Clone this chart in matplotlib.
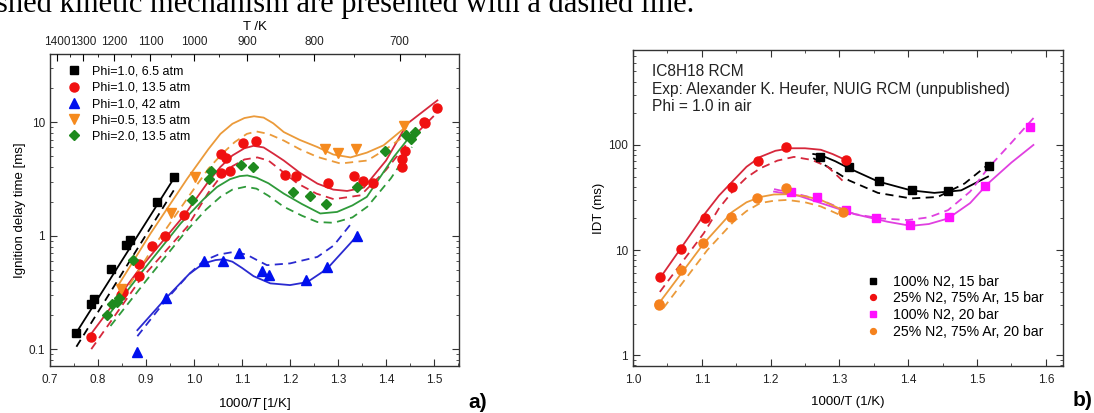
"""Ignition delay times of iso-octane: shock tube (a) and RCM (b) vs. model."""

import matplotlib.pyplot as plt
from matplotlib.ticker import FixedLocator, FuncFormatter, LogLocator, MultipleLocator, NullFormatter

plt.rcParams["font.family"] = ["Liberation Sans", "DejaVu Sans"]

# ---------------- panel a) data ----------------
A_LABELS = ["Phi=1.0, 6.5 atm", "Phi=1.0, 13.5 atm", "Phi=1.0, 42 atm",
            "Phi=0.5, 13.5 atm", "Phi=2.0, 13.5 atm"]

a_black_x = [0.755, 0.786, 0.791, 0.827, 0.858, 0.866, 0.923, 0.959]
a_black_y = [0.14, 0.25, 0.276, 0.51, 0.82, 0.91, 2.0, 3.26]

a_red_x = [0.786, 0.847, 0.852, 0.885, 0.885, 0.913, 0.940, 0.980, 1.057, 1.066,
           1.057, 1.076, 1.103, 1.130, 1.189, 1.213, 1.280, 1.334, 1.353, 1.372,
           1.434, 1.434, 1.439, 1.479, 1.482, 1.507]
a_red_y = [0.128, 0.30, 0.316, 0.44, 0.56, 0.81, 1.0, 1.52, 5.2, 4.8,
           3.6, 3.7, 6.6, 6.9, 3.46, 3.33, 2.92, 3.33, 3.04, 2.92,
           4.79, 4.04, 5.58, 10.1, 9.9, 13.5]

a_blue_x = [0.882, 0.941, 1.020, 1.061, 1.094, 1.142, 1.156, 1.234, 1.276, 1.339]
a_blue_y = [0.094, 0.283, 0.60, 0.60, 0.71, 0.487, 0.45, 0.41, 0.53, 0.99]

a_orange_x = [0.847, 0.953, 1.003, 1.272, 1.300, 1.337, 1.438]
a_orange_y = [0.34, 1.59, 3.3, 5.87, 5.37, 5.87, 9.2]

a_green_x = [0.818, 0.829, 0.839, 0.844, 0.872, 0.996, 1.032, 1.035, 1.097, 1.122,
             1.207, 1.241, 1.274, 1.339, 1.397, 1.442, 1.451, 1.461]
a_green_y = [0.20, 0.25, 0.26, 0.28, 0.61, 2.05, 3.15, 3.75, 4.18, 4.04,
             2.42, 2.23, 1.92, 2.69, 5.55, 7.8, 7.08, 8.2]

# model curves (solid = new mechanism, dashed = published mechanism)
a_black_sol_x = [0.755, 0.960]
a_black_sol_y = [0.14, 3.3]
a_black_das_x = [0.755, 0.960]
a_black_das_y = [0.105, 2.6]

a_red_sol_x = [0.786, 0.885, 0.980, 1.030, 1.055, 1.080, 1.105, 1.124, 1.145, 1.165,
               1.187, 1.220, 1.257, 1.290, 1.319, 1.354, 1.400, 1.444, 1.507]
a_red_sol_y = [0.137, 0.50, 1.52, 3.0, 4.04, 5.1, 5.9, 6.2, 6.0, 5.3,
               4.6, 3.6, 2.88, 2.55, 2.48, 2.66, 4.6, 9.7, 15.6]
a_red_das_x = [0.786, 0.888, 0.986, 1.030, 1.055, 1.080, 1.105, 1.132, 1.155, 1.180,
               1.215, 1.255, 1.291, 1.347, 1.400, 1.450, 1.505]
a_red_das_y = [0.10, 0.41, 1.2, 2.4, 3.3, 4.1, 4.7, 4.9, 4.6, 3.8,
               2.9, 2.35, 2.1, 2.27, 3.8, 7.0, 12.0]

a_blue_sol_x = [0.882, 0.941, 0.990, 1.020, 1.045, 1.062, 1.080, 1.100, 1.124, 1.159,
                1.200, 1.236, 1.277, 1.339]
a_blue_sol_y = [0.147, 0.28, 0.46, 0.57, 0.61, 0.62, 0.59, 0.52, 0.44, 0.38,
                0.367, 0.39, 0.51, 0.99]
a_blue_das_x = [0.882, 0.941, 0.990, 1.020, 1.050, 1.083, 1.110, 1.131, 1.152, 1.200,
                1.257, 1.291, 1.330]
a_blue_das_y = [0.13, 0.27, 0.46, 0.60, 0.68, 0.72, 0.68, 0.61, 0.55, 0.57,
                0.65, 0.82, 1.32]

a_orange_sol_x = [0.843, 0.909, 0.986, 1.030, 1.055, 1.080, 1.105, 1.125, 1.145, 1.165,
                  1.187, 1.220, 1.257, 1.290, 1.326, 1.360, 1.395, 1.437]
a_orange_sol_y = [0.37, 1.04, 3.19, 5.8, 7.9, 9.7, 10.9, 11.3, 11.0, 9.8,
                  8.2, 7.0, 6.05, 5.2, 4.9, 5.4, 6.27, 8.8]
a_orange_das_x = [0.850, 0.916, 0.993, 1.030, 1.059, 1.085, 1.110, 1.130, 1.155, 1.187,
                  1.220, 1.257, 1.305, 1.361, 1.400, 1.437]
a_orange_das_y = [0.29, 0.80, 2.35, 3.9, 5.3, 6.7, 7.9, 8.3, 7.9, 6.9,
                  5.8, 4.95, 4.33, 4.6, 5.8, 7.5]

a_green_sol_x = [0.818, 0.888, 0.972, 1.020, 1.048, 1.075, 1.095, 1.111, 1.130, 1.155,
                 1.187, 1.225, 1.263, 1.298, 1.330, 1.360, 1.416, 1.460]
a_green_sol_y = [0.19, 0.46, 1.28, 2.1, 2.69, 3.15, 3.35, 3.4, 3.25, 2.9,
                 2.35, 1.9, 1.57, 1.62, 1.85, 2.2, 4.94, 8.5]
a_green_das_x = [0.826, 0.902, 0.979, 1.025, 1.055, 1.080, 1.107, 1.130, 1.155, 1.187,
                 1.225, 1.257, 1.291, 1.330, 1.361, 1.410, 1.454]
a_green_das_y = [0.16, 0.41, 1.04, 1.7, 2.2, 2.55, 2.7, 2.6, 2.25, 1.8,
                 1.5, 1.32, 1.3, 1.45, 1.8, 3.2, 6.05]

T_TICKS = [1400, 1300, 1200, 1100, 1000, 900, 800, 700]
T_MINOR = [1350, 1250, 1150, 1050, 950, 850, 750, 675]

# ---------------- panel b) data ----------------
B_LABELS = ["100% N2, 15 bar", "25% N2, 75% Ar, 15 bar",
            "100% N2, 20 bar", "25% N2, 75% Ar, 20 bar"]

b_black_x = [1.272, 1.314, 1.357, 1.405, 1.458, 1.517]
b_black_y = [76, 62, 45, 37, 36.5, 63]

b_red_x = [1.039, 1.070, 1.104, 1.144, 1.181, 1.222, 1.309]
b_red_y = [5.5, 10.2, 20, 40, 71, 96, 72]

b_mag_x = [1.229, 1.268, 1.309, 1.353, 1.403, 1.459, 1.512, 1.577]
b_mag_y = [36, 32, 24, 20, 17.3, 20.7, 41, 147]

b_orange_x = [1.038, 1.038, 1.070, 1.102, 1.143, 1.180, 1.222, 1.305]
b_orange_y = [3.1, 3.0, 6.5, 11.8, 20.7, 31, 38.6, 23]

b_black_sol_x = [1.262, 1.273, 1.294, 1.314, 1.356, 1.404, 1.438, 1.477, 1.516]
b_black_sol_y = [82, 80, 70, 60, 45, 37, 35, 37, 50]
b_black_das_x = [1.262, 1.290, 1.314, 1.356, 1.404, 1.443, 1.482, 1.521]
b_black_das_y = [75, 58, 46, 35, 31, 32, 43, 69]

b_red_sol_x = [1.044, 1.088, 1.104, 1.125, 1.146, 1.165, 1.185, 1.207, 1.229, 1.250,
               1.273, 1.290, 1.309]
b_red_sol_y = [6.0, 15.5, 22, 33, 46, 62, 77, 88, 93, 93, 90, 82, 72]
b_red_das_x = [1.039, 1.103, 1.125, 1.146, 1.165, 1.185, 1.210, 1.234, 1.260, 1.283, 1.309]
b_red_das_y = [4.0, 14.5, 25, 37, 49, 60, 71, 77, 72, 62, 43]

b_mag_sol_x = [1.205, 1.240, 1.273, 1.322, 1.370, 1.404, 1.430, 1.458, 1.490, 1.516, 1.550, 1.582]
b_mag_sol_y = [36, 33, 28, 22, 18.6, 17, 17.7, 20, 28, 43, 68, 100]
b_mag_das_x = [1.205, 1.240, 1.273, 1.322, 1.360, 1.400, 1.430, 1.458, 1.490, 1.516, 1.550, 1.584]
b_mag_das_y = [38, 34, 30, 22, 20, 19.3, 20.5, 24, 36, 60, 105, 186]

b_orange_sol_x = [1.039, 1.103, 1.144, 1.165, 1.185, 1.205, 1.224, 1.250, 1.273, 1.305]
b_orange_sol_y = [3.2, 11.6, 23, 28.5, 32, 33.8, 34, 32.5, 30, 24]
b_orange_das_x = [1.044, 1.108, 1.146, 1.165, 1.185, 1.205, 1.224, 1.250, 1.273, 1.305]
b_orange_das_y = [2.8, 10, 18.6, 23.5, 28, 29.5, 30, 28.5, 26, 21]

DASH = (0, (4.5, 3))


def plain_fmt(v, pos):
    if v >= 1:
        return "%d" % round(v)
    return "%g" % v


def style_log_axes(ax):
    ax.set_yscale("log")
    ax.yaxis.set_major_formatter(FuncFormatter(plain_fmt))
    ax.yaxis.set_minor_locator(LogLocator(base=10, subs=range(2, 10)))
    ax.yaxis.set_minor_formatter(NullFormatter())
    ax.tick_params(which="both", direction="in", top=True, right=True,
                   labelsize=8.5, colors="#333333", labelcolor="#222222")
    ax.tick_params(axis="x", pad=6)
    ax.tick_params(which="major", length=5, width=0.8)
    ax.tick_params(which="minor", length=2.5, width=0.6)
    for s in ax.spines.values():
        s.set_color("#333333")
        s.set_linewidth(1.0)


fig = plt.figure(figsize=(10.94, 4.13), dpi=100)

fig.text(-0.004, 1 - 12 / 413, "shed kinetic mechanism are presented with a dashed line.",
         family=["Liberation Serif", "DejaVu Serif"], fontsize=22, va="baseline", ha="left")

# ---------------- panel a) ----------------
ax = fig.add_axes([50 / 1094, 1 - 366 / 413, 409 / 1094, 312 / 413])
style_log_axes(ax)

lw = 1.3
ax.plot(a_black_sol_x, a_black_sol_y, color="black", lw=lw)
ax.plot(a_black_das_x, a_black_das_y, color="black", lw=lw, ls=DASH)
ax.plot(a_red_sol_x, a_red_sol_y, color="#d6283c", lw=lw)
ax.plot(a_red_das_x, a_red_das_y, color="#d6283c", lw=lw, ls=DASH)
ax.plot(a_blue_sol_x, a_blue_sol_y, color="#2a2ad0", lw=lw)
ax.plot(a_blue_das_x, a_blue_das_y, color="#2a2ad0", lw=lw, ls=DASH)
ax.plot(a_orange_sol_x, a_orange_sol_y, color="#eb9a3a", lw=lw)
ax.plot(a_orange_das_x, a_orange_das_y, color="#eb9a3a", lw=lw, ls=DASH)
ax.plot(a_green_sol_x, a_green_sol_y, color="#2f9a3a", lw=lw)
ax.plot(a_green_das_x, a_green_das_y, color="#2f9a3a", lw=lw, ls=DASH)

ms = 6
ax.plot(a_black_x, a_black_y, "s", color="black", ms=ms - 0.5, ls="none", label=A_LABELS[0])
ax.plot(a_red_x, a_red_y, "o", color="#f01010", ms=ms + 0.5, ls="none", label=A_LABELS[1])
ax.plot(a_blue_x, a_blue_y, "^", color="#0010ee", ms=ms + 0.5, ls="none", label=A_LABELS[2])
ax.plot(a_orange_x, a_orange_y, "v", color="#f58a1e", ms=ms + 0.5, ls="none", label=A_LABELS[3])
ax.plot(a_green_x, a_green_y, "D", color="#1e8a1e", ms=ms - 0.5, ls="none", label=A_LABELS[4])

ax.set_xlim(0.7, 1.552)
ax.set_ylim(0.071, 40)
ax.xaxis.set_major_locator(MultipleLocator(0.1))
ax.xaxis.set_minor_locator(MultipleLocator(0.05))
ax.xaxis.set_major_formatter(FuncFormatter(lambda v, p: "%.1f" % v))
ax.tick_params(axis="x", which="both", top=False)
ax.set_xlabel("1000/$\\it{T}$ [1/K]", fontsize=9.5, labelpad=7)
ax.set_ylabel("Ignition delay time [ms]", fontsize=9.5, labelpad=2)

ax.legend(loc="upper left", frameon=False, fontsize=9, handletextpad=0.8,
          borderaxespad=0.3, labelspacing=0.33, handlelength=1.2,
          bbox_to_anchor=(0.02, 0.99))

# top temperature axis
top = ax.twiny()
top.set_xlim(ax.get_xlim())
top.xaxis.set_major_locator(FixedLocator([1000 / t for t in T_TICKS]))
top.xaxis.set_minor_locator(FixedLocator([1000 / t for t in T_MINOR]))
top.set_xticklabels([str(t) for t in T_TICKS])
top.tick_params(which="both", direction="in", labelsize=8.5, labelcolor="#222222", pad=4)
top.tick_params(which="major", length=5)
top.tick_params(which="minor", length=2.5)
top.set_xlabel("T /K", fontsize=9.5, labelpad=5)
for s in top.spines.values():
    s.set_visible(False)

fig.text(478 / 1094, 1 - 403 / 413, "a)", fontsize=15, fontweight="bold",
         ha="center", va="center")

# ---------------- panel b) ----------------
bx = fig.add_axes([633 / 1094, 1 - 366 / 413, 430 / 1094, 316 / 413])
style_log_axes(bx)

bx.plot(b_black_sol_x, b_black_sol_y, color="black", lw=lw)
bx.plot(b_black_das_x, b_black_das_y, color="black", lw=lw, ls=DASH)
bx.plot(b_red_sol_x, b_red_sol_y, color="#d6283c", lw=lw)
bx.plot(b_red_das_x, b_red_das_y, color="#d6283c", lw=lw, ls=DASH)
bx.plot(b_mag_sol_x, b_mag_sol_y, color="#e040e0", lw=lw)
bx.plot(b_mag_das_x, b_mag_das_y, color="#e040e0", lw=lw, ls=DASH)
bx.plot(b_orange_sol_x, b_orange_sol_y, color="#eb9a3a", lw=lw)
bx.plot(b_orange_das_x, b_orange_das_y, color="#eb9a3a", lw=lw, ls=DASH)

bx.plot(b_black_x, b_black_y, "s", color="black", ms=ms, ls="none", label=B_LABELS[0])
bx.plot(b_red_x, b_red_y, "o", color="#f01010", ms=ms + 0.5, ls="none", label=B_LABELS[1])
bx.plot(b_mag_x, b_mag_y, "s", color="#ff10ff", ms=ms, ls="none", label=B_LABELS[2])
bx.plot(b_orange_x, b_orange_y, "o", color="#f5821e", ms=ms + 0.5, ls="none", label=B_LABELS[3])

bx.set_xlim(1.0, 1.625)
bx.set_ylim(0.79, 800)
bx.xaxis.set_major_locator(MultipleLocator(0.1))
bx.xaxis.set_minor_locator(MultipleLocator(0.05))
bx.xaxis.set_major_formatter(FuncFormatter(lambda v, p: "%.1f" % v))
bx.set_xlabel("1000/T (1/K)", fontsize=9.5, labelpad=7)
bx.set_ylabel("IDT (ms)", fontsize=9.5, labelpad=2)

bx.text(0.045, 0.955, "IC8H18 RCM\nExp: Alexander K. Heufer, NUIG RCM (unpublished)\nPhi = 1.0 in air",
        transform=bx.transAxes, fontsize=11.2, va="top", ha="left", color="#222222",
        linespacing=1.2)

bx.legend(loc="lower right", frameon=False, fontsize=10.2, handletextpad=0.9,
          labelspacing=0.2, handlelength=1.0, markerscale=0.65,
          bbox_to_anchor=(0.985, 0.045))

fig.text(1083 / 1094, 1 - 400 / 413, "b)", fontsize=15, fontweight="bold",
         ha="center", va="center")

fig.savefig("out.png", dpi=100)
